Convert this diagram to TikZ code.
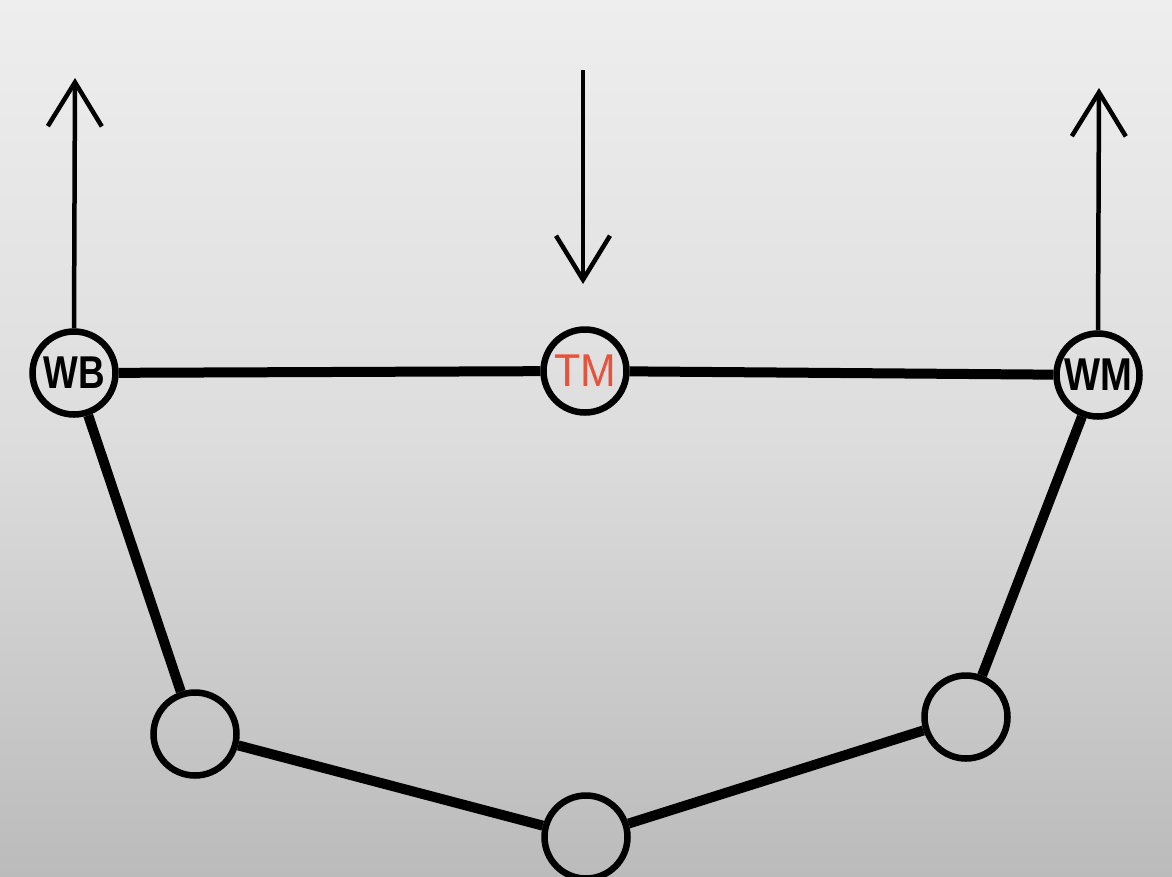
\documentclass[tikz,border=0pt]{standalone}
\usepackage{fontspec}
\setmainfont{Liberation Sans}
\usetikzlibrary{arrows.meta}
\definecolor{tmred}{HTML}{E5533D}
\definecolor{bgtop}{HTML}{EEEEEE}
\definecolor{bgmid}{HTML}{DDDDDD}
\definecolor{bgbot}{HTML}{BBBBBB}
\begin{document}
\begin{tikzpicture}[x=1pt,y=-1pt,
  joint/.style={circle,draw=black,line width=6.5pt,minimum size=83pt,inner sep=0pt},
  bond/.style={line width=10pt,black},
  force/.style={line width=4.5pt,black,-{Straight Barb[length=44pt,width=54pt]}},
  lblfont/.style={font=\fontsize{46}{46}\selectfont}]
\useasboundingbox (0,0) rectangle (1172,876);
\clip (0,0) rectangle (1172,876);
\shade[top color=bgtop,bottom color=bgbot,middle color=bgmid] (0,0) rectangle (1172,876);
\node[joint,lblfont] (WB) at (74,373) {\scalebox{0.8}[1]{\bfseries WB}};
\node[joint,lblfont] (TM) at (585,371) {\textcolor{tmred}{\scalebox{0.93}[1]{TM}}};
\node[joint,lblfont] (WM) at (1098,375) {\scalebox{0.83}[1]{\bfseries WM}};
\node[joint] (L) at (195,734) {};
\node[joint] (R) at (966,717) {};
\node[joint] (B) at (586,837) {};
\coordinate (WBtip) at (75,78);
\coordinate (WMtip) at (1099,88);
\coordinate (TMtail) at (583,70);
\coordinate (TMtip) at (583,284);
\draw[bond] (WB) -- (TM);
\draw[bond] (TM) -- (WM);
\draw[bond] (WB) -- (L);
\draw[bond] (WM) -- (R);
\draw[bond] (L) -- (B);
\draw[bond] (B) -- (R);
\draw[force] (WB.north) -- (WBtip);
\draw[force] (WM.north) -- (WMtip);
\draw[force] (TMtail) -- (TMtip);
\end{tikzpicture}
\end{document}
